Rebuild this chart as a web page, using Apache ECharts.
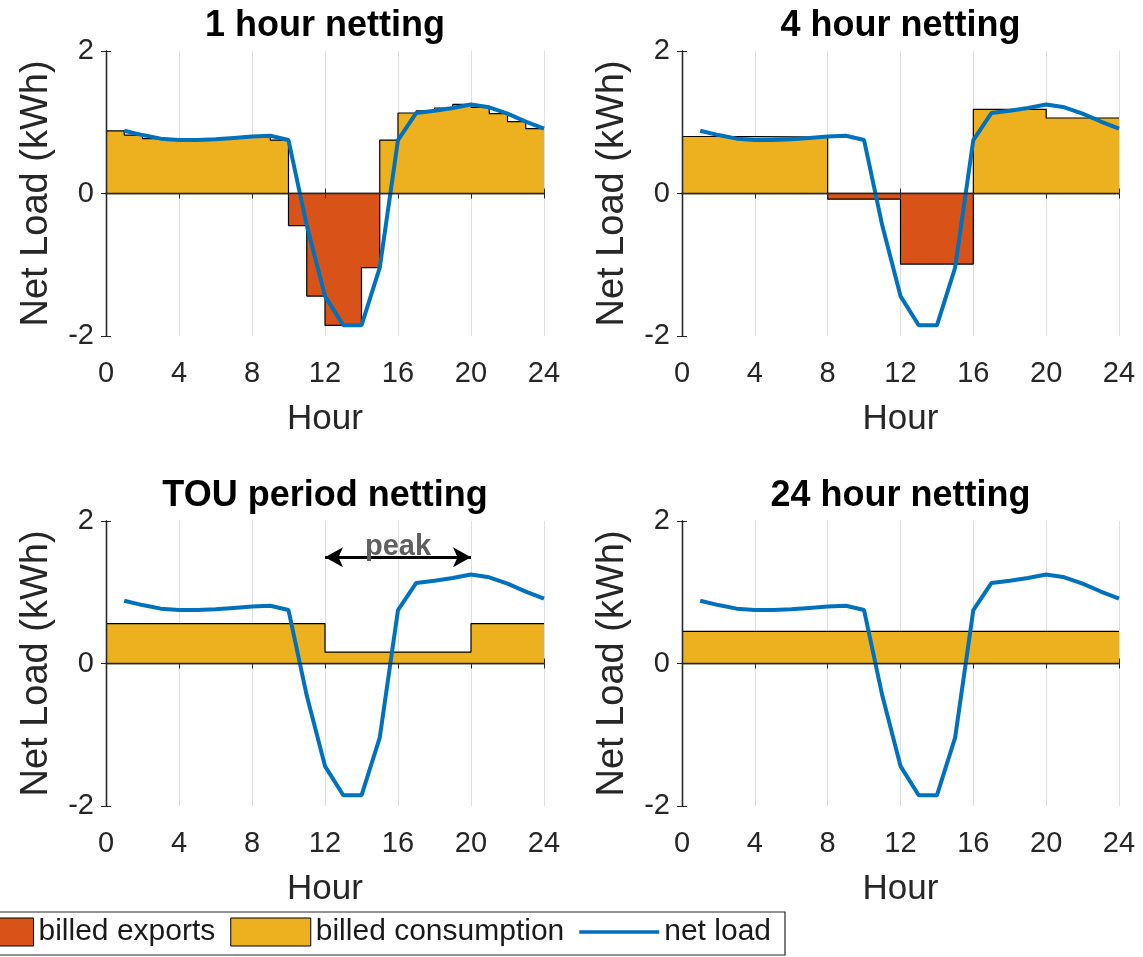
<!DOCTYPE html>
<html>
<head>
<meta charset="utf-8">
<script src="https://cdn.jsdelivr.net/npm/echarts@6/dist/echarts.min.js"></script>
<style>
html,body{margin:0;padding:0;background:#ffffff;}
#chart{width:1143px;height:957px;}
</style>
</head>
<body>
<div id="chart"></div>
<script>
// ---------------- data ----------------
const panelTitles = ['1 hour netting', '4 hour netting', 'TOU period netting', '24 hour netting'];
const xTicks = [0, 4, 8, 12, 16, 20, 24];
const yTicks = [-2, 0, 2];

// net load at hours 1..24 (kWh)
const hours = [1,2,3,4,5,6,7,8,9,10,11,12,13,14,15,16,17,18,19,20,21,22,23,24];
const netLoad = [0.88,0.82,0.77,0.75,0.75,0.76,0.78,0.80,0.81,0.75,-0.45,-1.44,-1.85,-1.85,-1.04,0.75,1.13,1.16,1.20,1.25,1.21,1.12,1.01,0.91];

// billed blocks: start hour of each block and its billed value
const hourlyStarts = [0,1,2,3,4,5,6,7,8,9,10,11,12,13,14,15,16,17,18,19,20,21,22,23];
const hourlyBilled = [0.88,0.82,0.77,0.75,0.75,0.76,0.78,0.80,0.81,0.75,-0.45,-1.44,-1.85,-1.85,-1.04,0.75,1.13,1.16,1.20,1.25,1.21,1.12,1.01,0.91];
const fourHourStarts = [0, 4, 8, 12, 16, 20];
const fourHourBilled = [0.80, 0.79, -0.08, -0.99, 1.18, 1.06];
const touStarts = [0, 12, 20];
const touBilled = [0.56, 0.16, 0.56];
const dayStarts = [0];
const dayBilled = [0.45];

const peakRange = [12, 20];
const peakArrowY = 1.49;
const peakLabel = 'peak';

const legendNames = ['billed exports', 'billed consumption', 'net load'];

// ---------------- styling ----------------
const FONT = 'Liberation Sans';
const TXT = '#262626';
const ORANGE = '#D95319', YELLOW = '#EDB120', BLUE = '#0072BD';

const gridPos = [
  {left: 106, top: 51, width: 438, height: 285},
  {left: 682, top: 51, width: 437, height: 285},
  {left: 106, top: 521, width: 438, height: 285},
  {left: 682, top: 521, width: 437, height: 285}
];
const panelBlocks = [
  [hourlyStarts, hourlyBilled],
  [fourHourStarts, fourHourBilled],
  [touStarts, touBilled],
  [dayStarts, dayBilled]
];

const xMin = xTicks[0], xMax = xTicks[xTicks.length - 1], xInt = xTicks[1] - xTicks[0];
const yMin = yTicks[0], yMax = yTicks[yTicks.length - 1], yInt = yTicks[1] - yTicks[0];

function stepPoints(starts, vals, positive) {
  const pts = starts.map((s, k) => [s, positive ? Math.max(vals[k], 0) : Math.min(vals[k], 0)]);
  pts.push([xMax, pts[pts.length - 1][1]]);
  return pts;
}

const grid = [], xAxis = [], yAxis = [], series = [], title = [];

gridPos.forEach((g, i) => {
  grid.push(Object.assign({containLabel: false}, g));
  title.push({
    text: panelTitles[i],
    left: g.left + g.width / 2,
    top: g.top - 43,
    textAlign: 'center',
    padding: 0,
    textStyle: {fontFamily: FONT, fontSize: 36, fontWeight: 'bold', color: '#000'}
  });
  // bottom x axis (labels + grid lines)
  xAxis.push({
    type: 'value', gridIndex: i, position: 'bottom', min: xMin, max: xMax, interval: xInt,
    name: 'Hour', nameLocation: 'middle', nameGap: 66,
    nameTextStyle: {fontFamily: FONT, fontSize: 35, color: TXT},
    axisLine: {show: true, lineStyle: {color: TXT, width: 1.3}},
    axisTick: {show: true, inside: true, length: 5, lineStyle: {color: TXT}},
    axisLabel: {fontFamily: FONT, fontSize: 29, color: TXT, margin: 23},
    splitLine: {show: true, lineStyle: {color: '#dedede', width: 1}}
  });
  // top x axis (box edge + ticks)
  xAxis.push({
    type: 'value', gridIndex: i, position: 'top', min: xMin, max: xMax, interval: xInt, z: 5,
    axisLine: {show: true, lineStyle: {color: TXT, width: 1.3}},
    axisTick: {show: true, inside: true, length: 5, lineStyle: {color: TXT}},
    axisLabel: {show: false}, splitLine: {show: false}
  });
  yAxis.push({
    type: 'value', gridIndex: i, position: 'left', min: yMin, max: yMax, interval: yInt, z: 5,
    name: 'Net Load (kWh)', nameLocation: 'middle', nameGap: 50,
    nameTextStyle: {fontFamily: FONT, fontSize: 38, color: TXT},
    axisLine: {show: true, lineStyle: {color: TXT, width: 1.3}},
    axisTick: {show: true, inside: true, length: 5, lineStyle: {color: TXT}},
    axisLabel: {fontFamily: FONT, fontSize: 29, color: TXT, margin: 12},
    splitLine: {show: false}
  });
  yAxis.push({
    type: 'value', gridIndex: i, position: 'right', min: yMin, max: yMax, interval: yInt, z: 5,
    axisLine: {show: true, lineStyle: {color: TXT, width: 1.3}},
    axisTick: {show: true, inside: true, length: 5, lineStyle: {color: TXT}},
    axisLabel: {show: false}, splitLine: {show: false}
  });

  const [starts, vals] = panelBlocks[i];
  const xi = 2 * i, yi = 2 * i;
  series.push({
    name: legendNames[0], type: 'line', step: 'end', xAxisIndex: xi, yAxisIndex: yi,
    data: stepPoints(starts, vals, false), symbol: 'none', silent: true, z: 2,
    color: ORANGE,
    itemStyle: {color: ORANGE, borderColor: '#000', borderWidth: 1},
    lineStyle: {color: '#000', width: 1.2},
    areaStyle: {color: ORANGE, opacity: 1, origin: 0}
  });
  series.push({
    name: legendNames[1], type: 'line', step: 'end', xAxisIndex: xi, yAxisIndex: yi,
    data: stepPoints(starts, vals, true), symbol: 'none', silent: true, z: 2,
    color: YELLOW,
    itemStyle: {color: YELLOW, borderColor: '#000', borderWidth: 1},
    lineStyle: {color: '#000', width: 1.2},
    areaStyle: {color: YELLOW, opacity: 1, origin: 0}
  });
  const net = {
    name: legendNames[2], type: 'line', xAxisIndex: xi, yAxisIndex: yi,
    data: hours.map((h, k) => [h, netLoad[k]]), symbol: 'none', silent: true, z: 3,
    color: BLUE,
    lineStyle: {color: BLUE, width: 4}
  };
  if (i === 2) {
    net.markLine = {
      silent: true,
      symbol: ['arrow', 'arrow'],
      symbolSize: [15, 18],
      lineStyle: {color: '#000', width: 3, type: 'solid'},
      label: {show: true, position: 'middle', formatter: peakLabel, distance: -4,
        fontFamily: FONT, fontSize: 29, fontWeight: 'bold', color: '#5f5f5f'},
      data: [[{coord: [peakRange[0], peakArrowY]}, {coord: [peakRange[1], peakArrowY]}]]
    };
  }
  series.push(net);
});

const chart = echarts.init(document.getElementById('chart'), null, {renderer: 'canvas'});
chart.setOption({
  animation: false,
  backgroundColor: '#ffffff',
  title: title,
  grid: grid,
  xAxis: xAxis,
  yAxis: yAxis,
  legend: {
    left: -55, top: 912,
    orient: 'horizontal',
    itemWidth: 80, itemHeight: 28, itemGap: 15,
    padding: [5, 14, 8, 8],
    borderColor: TXT, borderWidth: 1.2,
    backgroundColor: '#fff',
    selectedMode: false,
    textStyle: {fontFamily: FONT, fontSize: 30, color: '#1a1a1a'},
    data: [
      {name: legendNames[0], icon: 'rect', itemStyle: {color: ORANGE, borderColor: '#000', borderWidth: 1}},
      {name: legendNames[1], icon: 'rect', itemStyle: {color: YELLOW, borderColor: '#000', borderWidth: 1}},
      {name: legendNames[2], icon: 'path://M0,0 L0.01,0 M0,12.2 L80,12.2 L80,15.8 L0,15.8 Z M0,28 L0.01,28',
        itemStyle: {color: BLUE, borderWidth: 0}}
    ]
  },
  series: series
});
</script>
</body>
</html>
